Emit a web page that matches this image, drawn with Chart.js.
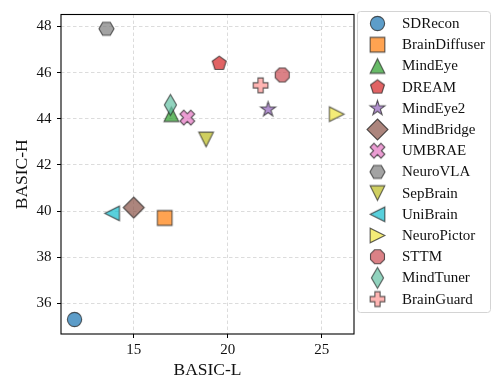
<!DOCTYPE html>
<html>
<head>
<meta charset="utf-8">
<script src="https://cdn.jsdelivr.net/npm/chart.js@4.4.1/dist/chart.umd.min.js"></script>
<style>
  html, body { margin: 0; padding: 0; background: #fff; }
  #wrap { width: 493px; height: 381px; }
</style>
</head>
<body>
<div id="wrap"><canvas id="scatterChart" width="493" height="381"></canvas></div>
<script>
// data
const methods = ['SDRecon', 'BrainDiffuser', 'MindEye', 'DREAM', 'MindEye2', 'MindBridge', 'UMBRAE',
    'NeuroVLA', 'SepBrain', 'UniBrain', 'NeuroPictor', 'STTM', 'MindTuner', 'BrainGuard'];
const basicL = [11.85, 16.65, 17.0, 19.55, 22.15, 15.0, 17.85, 13.55, 18.85, 13.85, 25.8, 22.9, 16.95, 21.75];
const basicH = [35.3, 39.7, 44.2, 46.4, 44.4, 40.15, 44.05, 47.9, 43.1, 39.9, 44.2, 45.9, 44.6, 45.45];
const xTicks = [15, 20, 25];
const yTicks = [36, 38, 40, 42, 44, 46, 48];

// styles
const colors = ['31,119,180', '255,127,14', '44,160,44', '214,39,40', '148,103,189', '140,86,75', '227,119,194',
    '127,127,127', '188,189,34', '23,190,207', '240,228,66', '205,80,88', '102,194,165', '255,152,150'];
const shapes = ['circle', 'square', 'triUp', 'pentagon', 'star', 'diamond', 'xFilled',
    'hexagon', 'triDown', 'triLeft', 'triRight', 'octagon', 'thinDiamond', 'plusFilled'];
const FONT = '"Liberation Serif", "Times New Roman", serif';
const K = 1.05; // marker scale

function regular(n, r, rot) {
    const pts = [];
    for (let i = 0; i < n; i++) {
        const a = rot + i * 2 * Math.PI / n;
        pts.push([r * Math.cos(a), r * Math.sin(a)]);
    }
    return pts;
}

function shapePoints(shape) {
    switch (shape) {
        case 'square': return [[-7, -7], [7, -7], [7, 7], [-7, 7]];
        case 'triUp': return [[0, -7], [7, 7], [-7, 7]];
        case 'triDown': return [[0, 7], [7, -7], [-7, -7]];
        case 'triLeft': return [[-7, 0], [7, -7], [7, 7]];
        case 'triRight': return [[7, 0], [-7, -7], [-7, 7]];
        case 'pentagon': return regular(5, 7, -Math.PI / 2);
        case 'hexagon': return regular(6, 7.2, 0);
        case 'octagon': return regular(8, 7.2, Math.PI / 8);
        case 'diamond': return [[0, -10], [10, 0], [0, 10], [-10, 0]];
        case 'thinDiamond': return [[0, -10], [5.8, 0], [0, 10], [-5.8, 0]];
        case 'star': {
            const pts = [];
            for (let i = 0; i < 10; i++) {
                const r = i % 2 === 0 ? 7.5 : 7.5 * 0.382;
                const a = -Math.PI / 2 + i * Math.PI / 5;
                pts.push([r * Math.cos(a), r * Math.sin(a)]);
            }
            return pts;
        }
        case 'plusFilled':
        case 'xFilled': {
            const a = 7, w = 2.5;
            let pts = [[-w, -a], [w, -a], [w, -w], [a, -w], [a, w], [w, w], [w, a], [-w, a], [-w, w], [-a, w], [-a, -w], [-w, -w]];
            if (shape === 'xFilled') {
                const c = Math.SQRT1_2, s = 1.05;
                pts = pts.map(p => [(p[0] - p[1]) * c * s, (p[0] + p[1]) * c * s]);
            }
            return pts;
        }
    }
    return null;
}

function makeMarker(shape, rgb) {
    const cv = document.createElement('canvas');
    cv.width = 25;
    cv.height = 25;
    const c = cv.getContext('2d');
    c.translate(12.5, 12.5);
    c.beginPath();
    if (shape === 'circle') {
        c.arc(0, 0, 6.8 * K, 0, Math.PI * 2);
    } else {
        const pts = shapePoints(shape);
        pts.forEach((p, i) => i === 0 ? c.moveTo(p[0] * K, p[1] * K) : c.lineTo(p[0] * K, p[1] * K));
        c.closePath();
    }
    c.fillStyle = 'rgba(' + rgb + ',0.72)';
    c.fill();
    c.lineWidth = 1.1;
    c.lineJoin = 'miter';
    c.strokeStyle = 'rgba(30,30,30,0.72)';
    c.stroke();
    return cv;
}

const markers = methods.map((m, i) => makeMarker(shapes[i], colors[i]));

const datasets = methods.map((name, i) => ({
    label: name,
    data: [{ x: basicL[i], y: basicH[i] }],
    pointStyle: markers[i],
    pointRadius: 7,
    order: methods.length - i
}));

// frame around the plot area (all four spines)
const framePlugin = {
    id: 'frame',
    afterDatasetsDraw(chart) {
        const a = chart.chartArea;
        const ctx = chart.ctx;
        ctx.save();
        ctx.strokeStyle = '#000';
        ctx.lineWidth = 1.1;
        ctx.strokeRect(a.left, a.top, a.right - a.left, a.bottom - a.top);
        ctx.restore();
    }
};

// legend box on the right, like matplotlib's
const legendPlugin = {
    id: 'sideLegend',
    afterDraw(chart) {
        const ctx = chart.ctx;
        const x0 = 357.5, y0 = 11.5, w = 133, h = 301;
        ctx.save();
        ctx.beginPath();
        ctx.roundRect(x0, y0, w, h, 3);
        ctx.fillStyle = '#fff';
        ctx.fill();
        ctx.strokeStyle = '#d4d4d4';
        ctx.lineWidth = 1;
        ctx.stroke();
        ctx.font = '15px ' + FONT;
        ctx.fillStyle = '#111';
        ctx.textBaseline = 'middle';
        methods.forEach((name, i) => {
            const y = 23.5 + i * 21.2;
            ctx.drawImage(markers[i], 377.5 - 12.5, y - 12.5);
            ctx.fillText(name, 402, y + 0.5);
        });
        ctx.restore();
    }
};

const ctx = document.getElementById('scatterChart').getContext('2d');
new Chart(ctx, {
    type: 'scatter',
    data: { datasets: datasets },
    options: {
        responsive: false,
        animation: false,
        layout: { padding: { left: 0, top: 4, right: 139, bottom: 0 } },
        plugins: {
            legend: { display: false },
            tooltip: { enabled: false }
        },
        scales: {
            x: {
                type: 'linear',
                min: 11.13,
                max: 26.72,
                afterBuildTicks: s => { s.ticks = xTicks.map(v => ({ value: v })); },
                afterFit: s => { s.height = 47; },
                ticks: { color: '#111', font: { family: FONT, size: 15 }, padding: 3, maxRotation: 0 },
                grid: { color: '#d3d3d3', lineWidth: 0.8, tickColor: '#000', tickLength: 4, tickWidth: 1 },
                border: { display: false, dash: [3.5, 2.5] },
                title: { display: true, text: 'BASIC-L', color: '#111', font: { family: FONT, size: 17.5 }, padding: { top: 0, bottom: 0.5 } }
            },
            y: {
                type: 'linear',
                min: 34.67,
                max: 48.52,
                afterBuildTicks: s => { s.ticks = yTicks.map(v => ({ value: v })); },
                afterFit: s => { s.width = 61; },
                ticks: { color: '#111', font: { family: FONT, size: 15 }, padding: 5.5 },
                grid: { color: '#d3d3d3', lineWidth: 0.8, tickColor: '#000', tickLength: 4, tickWidth: 1 },
                border: { display: false, dash: [3.5, 2.5] },
                title: { display: true, text: 'BASIC-H', color: '#111', font: { family: FONT, size: 17.5 }, padding: { top: 11.5, bottom: 0 } }
            }
        }
    },
    plugins: [framePlugin, legendPlugin]
});
</script>
</body>
</html>
